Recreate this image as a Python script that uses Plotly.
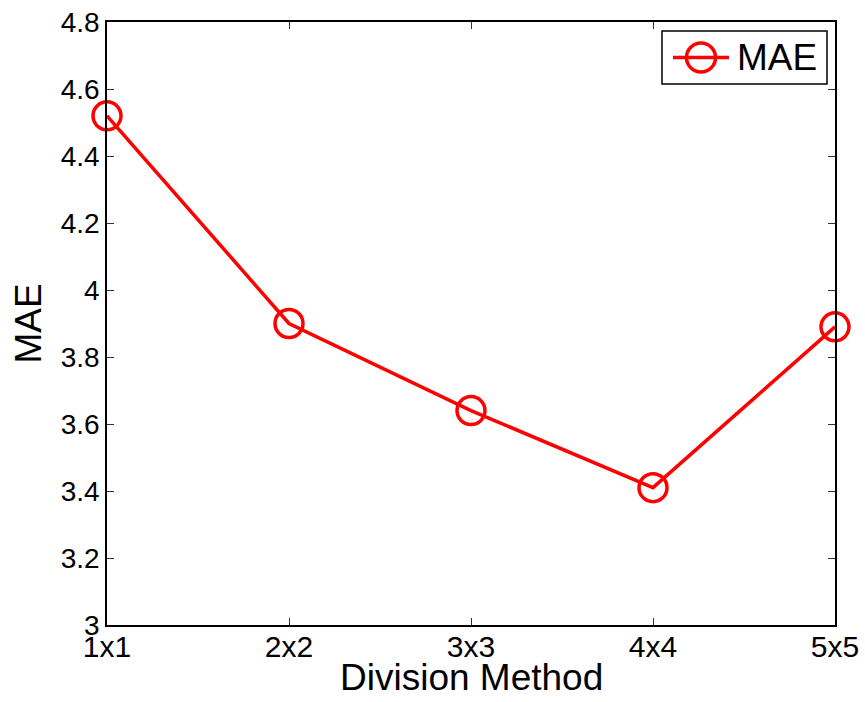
import plotly.graph_objects as go

categories = ["1x1", "2x2", "3x3", "4x4", "5x5"]
mae_values = [4.52, 3.90, 3.64, 3.41, 3.89]
y_ticks = [3, 3.2, 3.4, 3.6, 3.8, 4, 4.2, 4.4, 4.6, 4.8]
y_tick_labels = ["3", "3.2", "3.4", "3.6", "3.8", "4", "4.2", "4.4", "4.6", "4.8"]
series_name = "MAE"
x_title = "Division Method"
y_title = "MAE"

FONT = "Liberation Sans, Arial, sans-serif"
RED = "#ff0000"

fig = go.Figure()
fig.add_trace(go.Scatter(
    x=list(range(len(categories))), y=mae_values, name=series_name,
    mode="lines+markers",
    line=dict(color=RED, width=3.5),
    marker=dict(symbol="circle-open", size=28, color=RED, line=dict(width=3.5, color=RED)),
    cliponaxis=False, showlegend=False,
))

# plot-area geometry in pixels
L, T, W, H = 107, 22, 728, 603
def px(x):
    return (x - L) / W
def py(y):
    return (T + H - y) / H

shapes = [
    dict(type="rect", xref="paper", yref="paper", x0=px(662), x1=px(827), y0=py(84), y1=py(31),
         line=dict(color="black", width=1.5), fillcolor="white", layer="above"),
    dict(type="line", xref="paper", yref="paper", x0=px(673), x1=px(729), y0=py(57.5), y1=py(57.5),
         line=dict(color=RED, width=3.5), layer="above"),
    dict(type="circle", xref="paper", yref="paper", x0=px(686.5), x1=px(715.5), y0=py(72), y1=py(43),
         line=dict(color=RED, width=3.5), fillcolor="rgba(0,0,0,0)", layer="above"),
]
annotations = [
    dict(text=series_name, xref="paper", yref="paper", x=px(735), y=py(58), xanchor="left", yanchor="middle",
         showarrow=False, font=dict(size=37, family=FONT, color="black")),
    dict(text=x_title, xref="paper", yref="paper", x=0.5, y=py(677), xanchor="center", yanchor="middle",
         showarrow=False, font=dict(size=37, family=FONT, color="black")),
]

fig.update_layout(
    width=865, height=702,
    margin=dict(l=L, r=865 - L - W, t=T, b=702 - T - H),
    paper_bgcolor="white", plot_bgcolor="white",
    font=dict(family=FONT, color="black"),
    showlegend=False,
    shapes=shapes, annotations=annotations,
)
fig.update_xaxes(
    range=[0, 4], tickmode="array", tickvals=list(range(len(categories))), ticktext=categories,
    ticks="inside", ticklen=7, tickwidth=1, tickcolor="#333",
    showline=True, linecolor="black", linewidth=1.5, mirror="ticks",
    showgrid=False, zeroline=False, automargin=False,
    tickfont=dict(size=30, family=FONT), ticklabelstandoff=-6,
)
fig.update_yaxes(
    range=[3, 4.8], tickmode="array", tickvals=y_ticks, ticktext=y_tick_labels,
    ticks="inside", ticklen=7, tickwidth=1, tickcolor="#333",
    showline=True, linecolor="black", linewidth=1.5, mirror="ticks",
    showgrid=False, zeroline=False, automargin=False,
    tickfont=dict(size=28, family=FONT),
    title=dict(text=y_title, font=dict(size=37, family=FONT), standoff=8),
)

fig.write_html("out.html")
